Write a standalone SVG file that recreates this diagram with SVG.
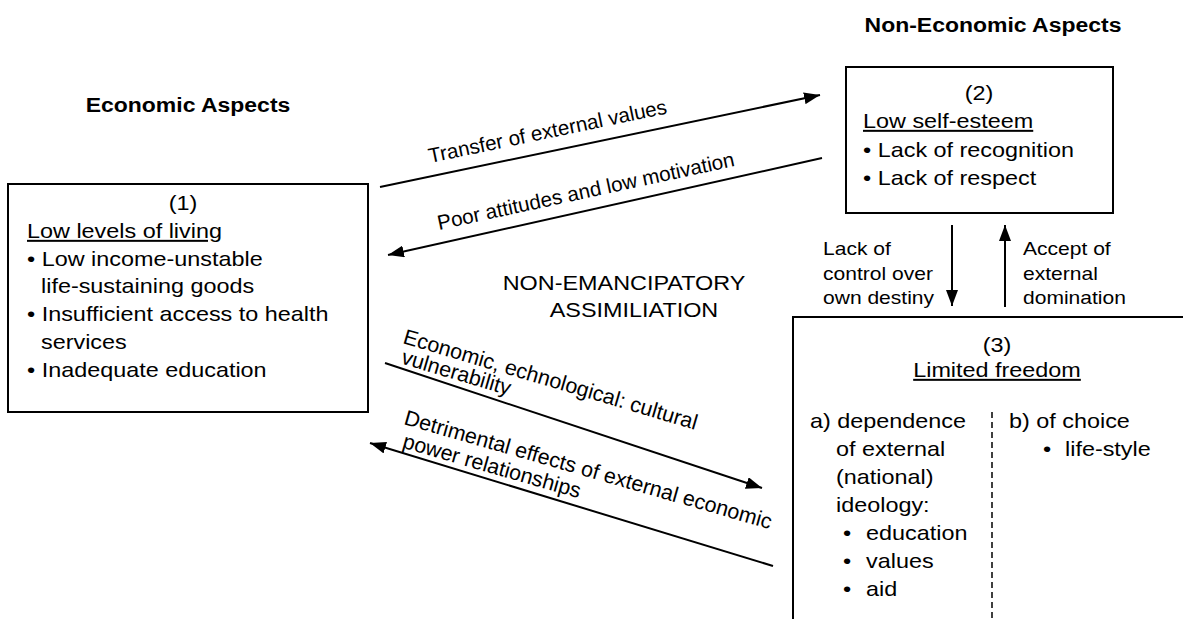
<svg xmlns="http://www.w3.org/2000/svg" width="1183" height="619" viewBox="0 0 1183 619">
<style>
  text { font-family: "Liberation Sans", Arial, sans-serif; fill: #000; }
  .t { font-size: 20px; }
  .s { font-size: 18.8px; }
  .b { font-size: 19.8px; font-weight: bold; }
  .r { font-size: 20.6px; }
  .r2 { font-size: 21.4px; }
  .m { text-anchor: middle; }
  .u { text-decoration: underline; }
  .box { fill: #fff; stroke: #000; stroke-width: 2; }
  .ln { stroke: #000; stroke-width: 2; fill: none; }
  .arr { stroke: #000; stroke-width: 2; fill: none; marker-end: url(#ah); }
  .dash { stroke: #000; stroke-width: 1.5; stroke-dasharray: 6 4; fill: none; }
</style>
<defs>
  <marker id="ah" markerUnits="userSpaceOnUse" markerWidth="18" markerHeight="12" refX="16" refY="6" orient="auto">
    <path d="M0,0 L16,6 L0,12 z" fill="#000"/>
  </marker>
</defs>
<rect width="1183" height="619" fill="#fff"/>

<g id="headers">
  <text class="b m" transform="translate(188,112) scale(1.16,1)">Economic Aspects</text>
  <text class="b m" transform="translate(993,32) scale(1.16,1)">Non-Economic Aspects</text>
  <text class="t m" transform="translate(624,290) scale(1.17,1)">NON-EMANCIPATORY</text>
  <text class="t m" transform="translate(634,317) scale(1.17,1)">ASSIMILIATION</text>
</g>

<g id="node1">
  <rect class="box" x="8" y="184" width="360" height="228"/>
  <text class="t m" transform="translate(183,210) scale(1.17,1)">(1)</text>
  <text class="t u" transform="translate(27,238) scale(1.17,1)">Low levels of living</text>
  <text class="t" transform="translate(27,266) scale(1.17,1)">• Low income-unstable</text>
  <text class="t" transform="translate(41,293) scale(1.17,1)">life-sustaining goods</text>
  <text class="t" transform="translate(27,321) scale(1.17,1)">• Insufficient access to health</text>
  <text class="t" transform="translate(41,349) scale(1.17,1)">services</text>
  <text class="t" transform="translate(27,377) scale(1.17,1)">• Inadequate education</text>
</g>

<g id="node2">
  <rect class="box" x="846" y="67" width="267" height="146"/>
  <text class="t m" transform="translate(979,100) scale(1.17,1)">(2)</text>
  <text class="t u" transform="translate(863,128) scale(1.17,1)">Low self-esteem</text>
  <text class="t" transform="translate(863,157) scale(1.17,1)">• Lack of recognition</text>
  <text class="t" transform="translate(863,185) scale(1.17,1)">• Lack of respect</text>
</g>

<g id="node3">
  <path class="ln" d="M793,619 V317 H1183"/>
  <path class="dash" d="M992,412 V619"/>
  <text class="t m" transform="translate(997,352) scale(1.17,1)">(3)</text>
  <text class="t m u" transform="translate(997,377) scale(1.17,1)">Limited freedom</text>
  <text class="t" transform="translate(810,428) scale(1.17,1)">a) dependence</text>
  <text class="t" transform="translate(836,456) scale(1.17,1)">of external</text>
  <text class="t" transform="translate(836,484) scale(1.17,1)">(national)</text>
  <text class="t" transform="translate(836,512) scale(1.17,1)">ideology:</text>
  <text class="t" transform="translate(843,540) scale(1.17,1)">•</text>
  <text class="t" transform="translate(866,540) scale(1.17,1)">education</text>
  <text class="t" transform="translate(843,568) scale(1.17,1)">•</text>
  <text class="t" transform="translate(866,568) scale(1.17,1)">values</text>
  <text class="t" transform="translate(843,596) scale(1.17,1)">•</text>
  <text class="t" transform="translate(866,596) scale(1.17,1)">aid</text>
  <text class="t" transform="translate(1009,428) scale(1.17,1)">b) of choice</text>
  <text class="t" transform="translate(1043,456) scale(1.17,1)">•</text>
  <text class="t" transform="translate(1065,456) scale(1.17,1)">life-style</text>
</g>

<g id="connectors">
  <line class="arr" x1="380" y1="187" x2="820" y2="95"/>
  <line class="arr" x1="822" y1="158" x2="388" y2="255"/>
  <line class="arr" x1="385" y1="363" x2="762" y2="488"/>
  <line class="arr" x1="773" y1="566" x2="370" y2="443"/>
  <line class="arr" x1="952" y1="225" x2="952" y2="306"/>
  <line class="arr" x1="1005" y1="307" x2="1005" y2="225"/>
</g>

<g id="connector-labels">
  <text class="r" transform="translate(430,163) rotate(-11.8)">Transfer of external values</text>
  <text class="r" transform="translate(439,230) rotate(-12.2)">Poor attitudes and low motivation</text>
  <g transform="translate(402,343) rotate(16.5)">
    <text class="r2" x="0" y="0">Economic, echnological: cultural</text>
    <text class="r2" x="4" y="20">vulnerability</text>
  </g>
  <g transform="translate(403,424) rotate(16)">
    <text class="r2" x="0" y="0">Detrimental effects of external economic</text>
    <text class="r2" x="5" y="23">power relationships</text>
  </g>
  <text class="s" transform="translate(823,255) scale(1.12,1)">Lack of</text>
  <text class="s" transform="translate(823,280) scale(1.12,1)">control over</text>
  <text class="s" transform="translate(823,304) scale(1.12,1)">own destiny</text>
  <text class="s" transform="translate(1023,255) scale(1.12,1)">Accept of</text>
  <text class="s" transform="translate(1023,280) scale(1.12,1)">external</text>
  <text class="s" transform="translate(1023,304) scale(1.12,1)">domination</text>
</g>
</svg>
